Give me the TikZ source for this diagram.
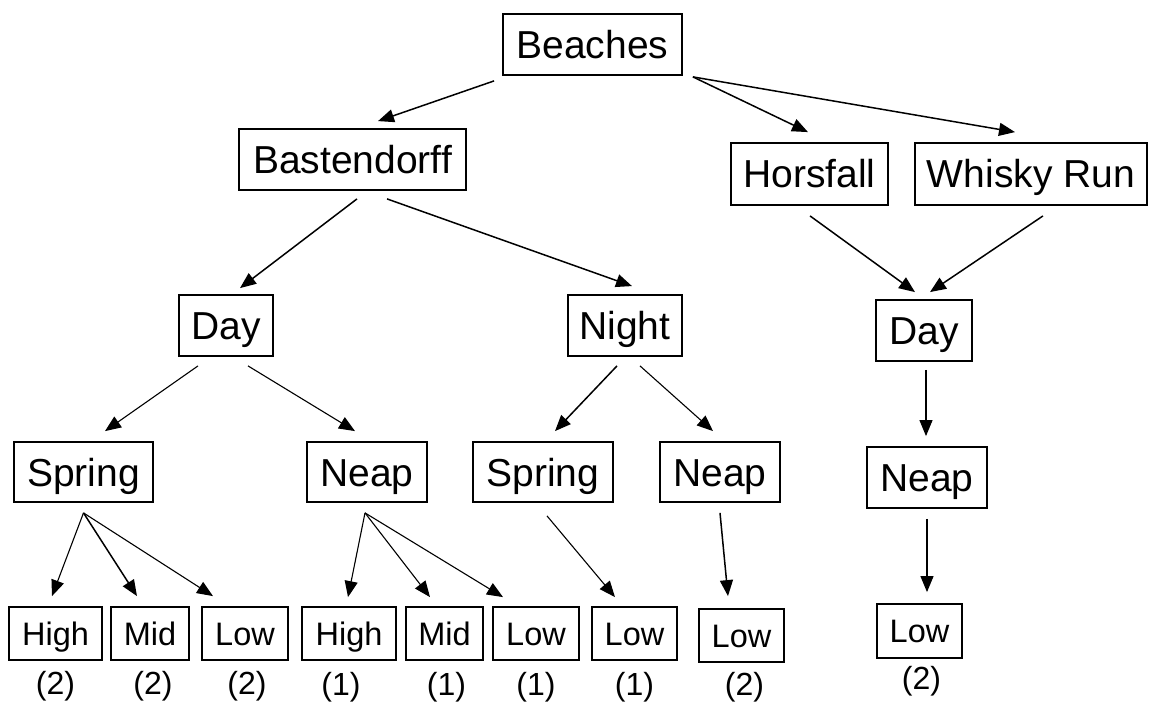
\documentclass[tikz,border=0pt]{standalone}
\usepackage{fontspec}
\setmainfont{Liberation Sans}
\usetikzlibrary{arrows.meta, positioning, calc}

\begin{document}
\begin{tikzpicture}[
    x=1pt, y=-1pt,
    node distance=10pt,
    site/.style={rectangle, minimum height=61pt, inner sep=0pt, text height=28pt, text depth=0pt, text centered, draw=black, line width=1.8pt, font=\fontsize{39}{44}\selectfont},
    leaf/.style={rectangle, minimum height=53pt, inner sep=0pt, text height=23pt, text depth=0pt, text centered, draw=black, line width=1.8pt, font=\fontsize{32.5}{36}\selectfont},
    count/.style={inner sep=0pt, font=\fontsize{32}{36}\selectfont},
    arrow/.style={line width=1.5pt, -{Triangle[length=16pt, width=13pt]}},
    thinarrow/.style={line width=1.1pt, -{Triangle[length=16pt, width=13pt]}},
]
    \useasboundingbox (0,0) rectangle (1149,703);

    % beaches
    \node (beaches) [site, minimum width=179pt] at (592.5,44.5) {Beaches};
    \node (bast) [site, minimum width=227pt] at (352.5,159.5) {Bastendorff};
    \node (horsfall) [site, minimum width=157pt, minimum height=62pt] at (809.5,174) {Horsfall};
    \node (whisky) [site, minimum width=232pt, minimum height=62pt] at (1031,174) {Whisky Run};

    % day / night
    \node (day_l) [site, minimum width=94pt] at (226,325.5) {Day};
    \node (night) [site, minimum width=114pt] at (625,325.5) {Night};
    \node (day_r) [site, minimum width=96pt] at (924,330.5) {Day};

    % tides
    \node (spring_d) [site, minimum width=139pt, minimum height=60pt] at (83.5,472) {Spring};
    \node (neap_d) [site, minimum width=120pt, minimum height=60pt] at (367,472) {Neap};
    \node (spring_n) [site, minimum width=140pt, minimum height=60pt] at (543,472) {Spring};
    \node (neap_n) [site, minimum width=120pt, minimum height=60pt] at (720,472) {Neap};
    \node (neap_r) [site, minimum width=120pt] at (927,477.5) {Neap};

    % tide heights
    \node (high_sd) [leaf, minimum width=93pt] at (55.5,633.5) {High};
    \node (mid_sd) [leaf, minimum width=78pt] at (150,633.5) {Mid};
    \node (low_sd) [leaf, minimum width=86pt] at (245,633.5) {Low};
    \node (high_nd) [leaf, minimum width=94pt] at (349,633.5) {High};
    \node (mid_nd) [leaf, minimum width=77pt] at (444.5,633.5) {Mid};
    \node (low_nd) [leaf, minimum width=86pt] at (536,633.5) {Low};
    \node (low_sn) [leaf, minimum width=85pt] at (634.5,633.5) {Low};
    \node (low_nn) [leaf, minimum width=85pt] at (741.5,635.5) {Low};
    \node (low_r) [leaf, minimum width=85pt, minimum height=54pt] at (919.5,631) {Low};

    % counts
    \node (c_high_sd) [count, below=10pt of high_sd] {(2)};
    \node (c_mid_sd) [count, below=10pt of mid_sd, xshift=3pt] {(2)};
    \node (c_low_sd) [count, below=10pt of low_sd, xshift=2pt] {(2)};
    \node (c_high_nd) [count, below=11pt of high_nd, xshift=-8pt] {(1)};
    \node (c_mid_nd) [count, below=11pt of mid_nd, xshift=2pt] {(1)};
    \node (c_low_nd) [count, below=11pt of low_nd] {(1)};
    \node (c_low_sn) [count, below=11pt of low_sn] {(1)};
    \node (c_low_nn) [count, below=9pt of low_nn, xshift=3pt] {(2)};
    \node (c_low_r) [count, below=7pt of low_r, xshift=2pt] {(2)};

    \draw [arrow] ($(beaches.south west)+(-8,5)$) -- ($(bast.north)+(25.5,-7)$);
    \draw [arrow] ($(beaches.south east)+(10,1)$) -- ($(horsfall.north)+(-1.5,-10)$);
    \draw [arrow] ($(beaches.south east)+(10,1)$) -- ($(whisky.north)+(-16,-10)$);
    \draw [arrow] ($(bast.south)+(4.5,8)$) -- ($(day_l.north)+(14,-6)$);
    \draw [arrow] ($(bast.south)+(34.5,8)$) -- ($(night.north)+(7,-8)$);
    \draw [arrow] ($(horsfall.south)+(0.5,10)$) -- ($(day_r.north)+(-9,-7)$);
    \draw [arrow] ($(whisky.south)+(12,10)$) -- ($(day_r.north)+(6,-7)$);
    \draw [thinarrow] ($(day_l.south)+(-28,9)$) -- ($(spring_d.north)+(21.5,-10)$);
    \draw [thinarrow] ($(day_l.south)+(22,9)$) -- ($(neap_d.north)+(-12,-10)$);
    \draw [arrow] ($(night.south)+(-8,9)$) -- ($(spring_n.north)+(12,-10)$);
    \draw [thinarrow] ($(night.south)+(15,9)$) -- ($(neap_n.north)+(-7,-10)$);
    \draw [thinarrow] ($(day_r.south)+(2,8)$) -- ($(neap_r.north)+(-1,-10)$);
    \draw [thinarrow] ($(spring_d.south)+(0,10)$) -- ($(high_sd.north)+(-3.5,-10)$);
    \draw [arrow] ($(spring_d.south)+(0,10)$) -- ($(mid_sd.north)+(-13,-10)$);
    \draw [thinarrow] ($(spring_d.south)+(0,10)$) -- ($(low_sd.north)+(-32,-10)$);
    \draw [thinarrow] ($(neap_d.south)+(-2,10)$) -- ($(high_nd.north)+(-1,-9)$);
    \draw [thinarrow] ($(neap_d.south)+(-2,10)$) -- ($(mid_nd.north)+(-14.5,-9)$);
    \draw [thinarrow] ($(neap_d.south)+(-2,10)$) -- ($(low_nd.north)+(-33,-9)$);
    \draw [thinarrow] ($(spring_n.south)+(4,13)$) -- ($(low_sn.north)+(-19.5,-9)$);
    \draw [arrow] ($(neap_n.south)+(0,10)$) -- ($(low_nn.north)+(-13.5,-12)$);
    \draw [thinarrow] ($(neap_r.south)+(0,10)$) -- ($(low_r.north)+(7.5,-11)$);

\end{tikzpicture}
\end{document}
